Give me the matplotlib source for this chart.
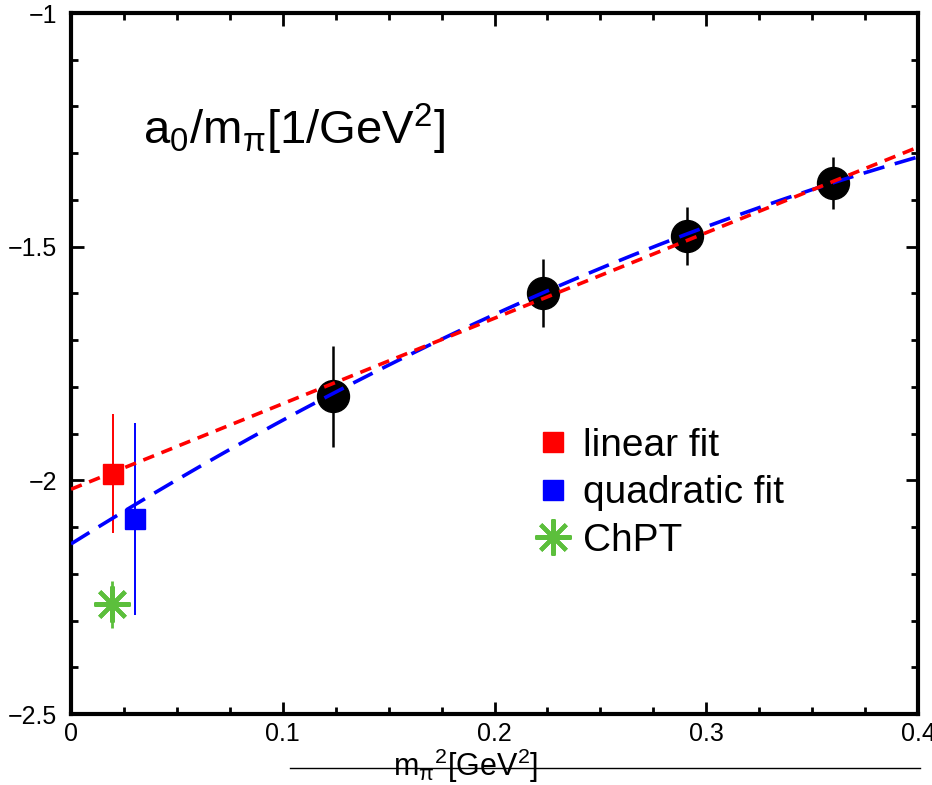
import matplotlib
matplotlib.use('agg')
import matplotlib.pyplot as plt
from matplotlib.lines import Line2D
import numpy as np

plt.rcParams['font.family'] = ['Liberation Sans Narrow', 'Liberation Sans', 'DejaVu Sans']
plt.rcParams['mathtext.fontset'] = 'custom'
plt.rcParams['mathtext.rm'] = 'Liberation Sans'
plt.rcParams['mathtext.it'] = 'Liberation Sans'

# lattice points
m_pi_sq = [0.1237, 0.2229, 0.2909, 0.3599]
a0_over_mpi = [-1.820, -1.599, -1.477, -1.364]
a0_err = [0.108, 0.072, 0.062, 0.056]

# chiral extrapolations at the physical point
lin_x, lin_y, lin_err = 0.0196, -1.986, 0.127
quad_x, quad_y, quad_err = 0.0302, -2.083, 0.206
chpt_x, chpt_y, chpt_err = 0.0194, -2.265, 0.050

# fit coefficients, constant first
lin_coef = [-2.019, 1.83]
quad_coef = [-2.136, 2.84, -1.925]

x_ticks = [0, 0.1, 0.2, 0.3, 0.4]
x_tick_labels = ['0', '0.1', '0.2', '0.3', '0.4']
y_ticks = [-2.5, -2, -1.5, -1]
y_tick_labels = ['\u22122.5', '\u22122', '\u22121.5', '\u22121']

fig = plt.figure(figsize=(9.32, 7.85), dpi=100)
ax = fig.add_axes([0.0762, 0.0904, 0.9088, 0.893])

xs = np.linspace(0, 0.4, 200)
ax.plot(xs, np.polynomial.polynomial.polyval(xs, quad_coef), color='#0000ff',
        lw=2.6, dashes=(6, 3), zorder=5)
ax.plot(xs, np.polynomial.polynomial.polyval(xs, lin_coef), color='#ff0000',
        lw=2.6, dashes=(3.2, 2.2), zorder=6)

ax.errorbar(m_pi_sq, a0_over_mpi, yerr=a0_err, fmt='o', color='black',
            ms=23, elinewidth=1.8, capsize=0, zorder=4)
ax.errorbar([lin_x], [lin_y], yerr=[lin_err], fmt='s', color='#ff0000',
            ms=15, elinewidth=1.4, capsize=0, zorder=4)
ax.errorbar([quad_x], [quad_y], yerr=[quad_err], fmt='s', color='#0000ff',
            ms=15, elinewidth=1.4, capsize=0, zorder=4)
ax.errorbar([chpt_x], [chpt_y], yerr=[chpt_err], fmt='none', ecolor='#5cbf3c',
            elinewidth=2, capsize=0, zorder=4)
ax.plot([chpt_x], [chpt_y], marker=(8, 2, 0), color='#5cbf3c', ms=26, mew=3,
        ls='none', zorder=4)

ax.set_xlim(0, 0.4)
ax.set_ylim(-2.5, -1)
ax.set_xticks(x_ticks)
ax.set_xticklabels(x_tick_labels)
ax.set_yticks(y_ticks)
ax.set_yticklabels(y_tick_labels)
ax.set_xticks(np.arange(0, 0.401, 0.025), minor=True)
ax.set_yticks(np.arange(-2.5, -0.99, 0.1), minor=True)
ax.tick_params(which='both', direction='in', top=True, right=True, width=2,
               labelsize=18)
ax.tick_params(which='major', length=9)
ax.tick_params(which='minor', length=5)
ax.tick_params(axis='x', which='major', pad=6)
ax.tick_params(axis='y', which='major', pad=10)
for s in ax.spines.values():
    s.set_linewidth(3)

ax.text(0.034, -1.25, r'a$_0$/m$_\pi$[1/GeV$^2$]', fontsize=34, va='center')

handles = [
    Line2D([], [], marker='s', color='#ff0000', ls='none', ms=15),
    Line2D([], [], marker='s', color='#0000ff', ls='none', ms=15),
    Line2D([], [], marker=(8, 2, 0), color='#5cbf3c', ls='none', ms=26, mew=3),
]
ax.legend(handles, ['linear fit', 'quadratic fit', 'ChPT'], loc='center left',
          bbox_to_anchor=(0.519, 0.315), frameon=False, fontsize=28,
          handletextpad=0.15, labelspacing=0.3, handlelength=1.2, borderpad=0)

fig.text(0.5, 0.012, r'm$_\pi$$^2$[GeV$^2$]', fontsize=22, ha='center')
fig.add_artist(Line2D([0.311, 0.987], [0.022, 0.022], color='black', lw=1,
                      transform=fig.transFigure))

fig.savefig('out.png', dpi=100)
